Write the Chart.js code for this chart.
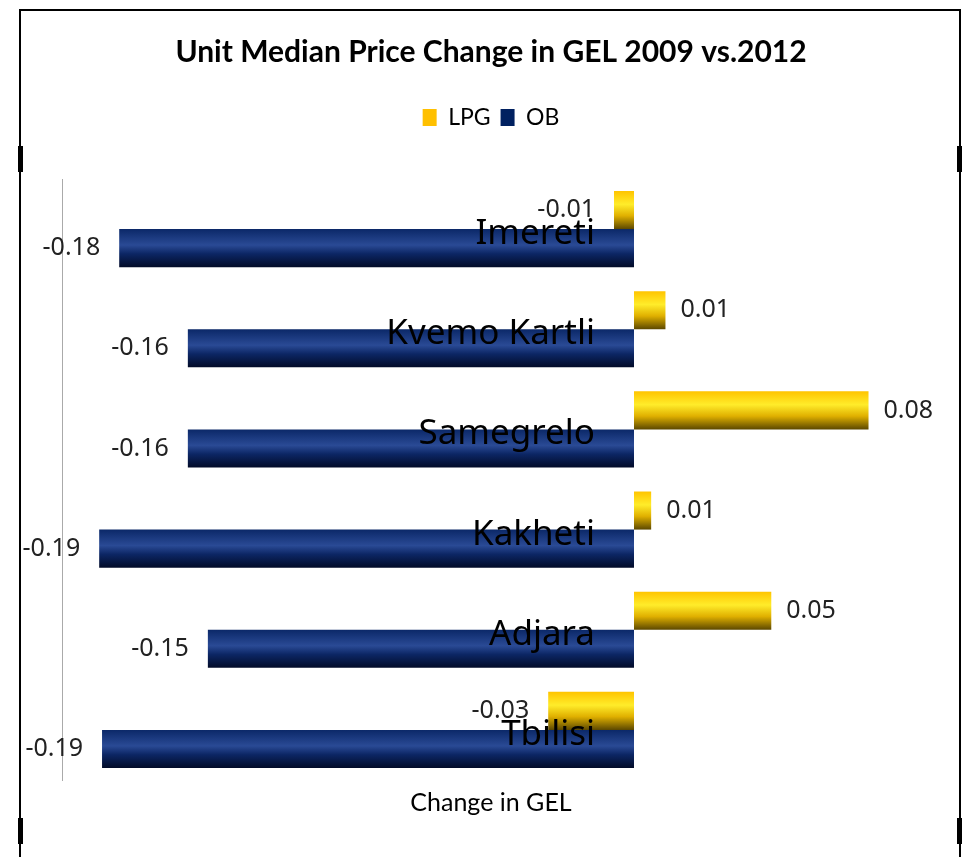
<!DOCTYPE html>
<html>
<head>
<meta charset="utf-8">
<script src="https://cdn.jsdelivr.net/npm/chart.js@4"></script>
<style>
  body { margin: 0; background: #fff; }
  #wrap { position: relative; width: 967px; height: 857px; }
  #myChart { position: absolute; left: 0; top: 0; }
  .frame { position: absolute; left: 19px; top: 9px; width: 938px; height: 860px;
           border: 2px solid #000; border-bottom: none; }
  .handle { position: absolute; width: 5px; height: 26px; background: #000; }
</style>
</head>
<body>
<div id="wrap">
  <canvas id="myChart" width="967" height="857"></canvas>
  <div class="frame"></div>
  <div class="handle" style="left:18px;top:146px"></div>
  <div class="handle" style="left:957px;top:146px"></div>
  <div class="handle" style="left:18px;top:818px"></div>
  <div class="handle" style="left:957px;top:818px"></div>
</div>
<script>
const ctx = document.getElementById("myChart");

const regions = ["Imereti", "Kvemo Kartli", "Samegrelo", "Kakheti", "Adjara", "Tbilisi"];
const lpg = [-0.007, 0.011, 0.082, 0.006, 0.048, -0.030];
const ob = [-0.18, -0.156, -0.156, -0.187, -0.149, -0.186];

const solid = ["#FFC000", "#002060"];

// vertical gradient for each bar, from the category position on the y scale
const barFill = (context) => {
  const chart = context.chart;
  const y = chart.scales.y;
  if (!chart.chartArea || context.dataIndex === undefined) return solid[context.datasetIndex];
  const center = y.getPixelForValue(context.dataIndex);
  const h = (y.height / regions.length) * 0.76 / 2;
  const top = context.datasetIndex === 0 ? center - h : center;
  const g = chart.ctx.createLinearGradient(0, top, 0, top + h);
  if (context.datasetIndex === 0) {
    g.addColorStop(0, "#FFC400");
    g.addColorStop(0.35, "#FFEC2A");
    g.addColorStop(0.65, "#E0B000");
    g.addColorStop(1, "#5C4800");
  } else {
    g.addColorStop(0, "#0B2868");
    g.addColorStop(0.42, "#2A4A95");
    g.addColorStop(0.65, "#0C2664");
    g.addColorStop(1, "#020B28");
  }
  return g;
};

// push the plot area down below the legend
const legendGap = {
  id: "legendGap",
  beforeInit(chart) {
    const fit = chart.legend.fit;
    chart.legend.fit = function () {
      fit.bind(chart.legend)();
      this.height += 40;
    };
  },
};

// value labels next to bars and region names near the zero line
const labels = {
  id: "labels",
  afterDatasetsDraw(chart) {
    const c = chart.ctx;
    c.save();
    c.textBaseline = "middle";
    c.fillStyle = "#222";
    c.font = "25px 'Noto Sans'";
    chart.data.datasets.forEach((ds, di) => {
      chart.getDatasetMeta(di).data.forEach((el, i) => {
        const v = ds.data[i];
        const txt = v.toFixed(2);
        if (v < 0) {
          c.textAlign = "right";
          c.fillText(txt, el.x - 19, el.y);
        } else {
          c.textAlign = "left";
          c.fillText(txt, el.x + 15, el.y);
        }
      });
    });
    const x0 = chart.scales.x.getPixelForValue(0);
    c.font = "35px 'Noto Sans'";
    c.fillStyle = "#000";
    c.textAlign = "right";
    regions.forEach((r, i) => {
      c.fillText(r, x0 - 39, chart.scales.y.getPixelForValue(i) + 5);
    });
    c.restore();
  },
};

new Chart(ctx, {
  type: "bar",
  data: {
    labels: regions,
    datasets: [
      { label: "LPG", data: lpg, backgroundColor: barFill },
      { label: "OB", data: ob, backgroundColor: barFill },
    ],
  },
  options: {
    indexAxis: "y",
    responsive: false,
    animation: false,
    categoryPercentage: 0.76,
    barPercentage: 1,
    layout: { padding: { left: 62, right: 47, top: 0, bottom: 39 } },
    scales: {
      x: {
        min: -0.2,
        max: 0.1,
        grid: { display: false },
        border: { display: false },
        ticks: { display: false },
        title: {
          display: true,
          text: "Change in GEL",
          color: "#000",
          font: { family: "Lato", size: 25 },
          padding: { top: 0, bottom: 0 },
        },
      },
      y: {
        grid: { display: false, drawTicks: false },
        border: { display: true, color: "#aaa", width: 1 },
        ticks: { display: false },
      },
    },
    plugins: {
      title: {
        display: true,
        text: "Unit Median Price Change in GEL 2009 vs.2012",
        color: "#000",
        font: { family: "Lato", size: 30, weight: "bold" },
        padding: { top: 34, bottom: 26 },
      },
      legend: {
        display: true,
        position: "top",
        labels: {
          color: "#000",
          font: { family: "Lato", size: 23 },
          boxWidth: 14,
          boxHeight: 17,
          padding: 10,
          generateLabels: (chart) =>
            chart.data.datasets.map((ds, i) => ({
              text: ds.label,
              fillStyle: solid[i],
              strokeStyle: solid[i],
              lineWidth: 0,
              datasetIndex: i,
            })),
        },
      },
      tooltip: { enabled: false },
    },
  },
  plugins: [legendGap, labels],
});
</script>
</body>
</html>
